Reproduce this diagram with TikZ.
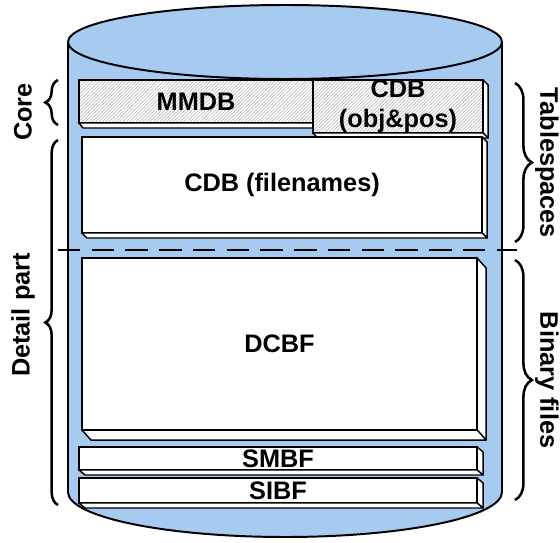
\documentclass[tikz,border=0pt]{standalone}
\usepackage{fontspec}
\setmainfont{Liberation Sans}
\usetikzlibrary{calc, decorations.pathreplacing, patterns.meta}
\definecolor{diskblue}{RGB}{166,202,240}
\newcommand{\labelfont}{\fontsize{18}{21}\selectfont\bfseries}

\tikzset{
  slab/.style={draw, line width=1pt, fill=white, inner sep=0pt, outer sep=0pt,
               anchor=north west, font=\labelfont},
  hatched/.style={preaction={fill=white},
                  pattern={Lines[angle=45,distance=1.7pt,line width=0.35pt]},
                  pattern color=gray!65},
  slabside/.style={draw, line width=1pt, fill=white, line join=round},
  bracket/.style={decorate, decoration={brace, amplitude=#1}, line width=1.8pt},
  sidelabel/.style={font=\labelfont},
}
% right and bottom faces of a slab
\newcommand{\slabsides}[3]{%
  \draw[slabside] (#1.north east) -- ++(#2,-#3) -- ($(#1.south east)+(#2,-#3)$)
    -- (#1.south east) -- cycle;
  \draw[slabside] (#1.south west) -- ++(#2,-#3) -- ($(#1.south east)+(#2,-#3)$)
    -- (#1.south east) -- cycle;}

\begin{document}
\begin{tikzpicture}[x=0.025cm, y=0.025cm]
  \useasboundingbox (0,0) rectangle (560,542);

  % the disk
  \fill[diskblue] (68,500) -- (68,50)
    arc[start angle=180, end angle=360, x radius=217, y radius=45] -- (502,500) -- cycle;
  \draw[line width=1.4pt] (68,500) -- (68,50)
    arc[start angle=180, end angle=360, x radius=217, y radius=45] -- (502,500);
  \draw[line width=1.4pt, fill=diskblue] (285,500) ellipse [x radius=217, y radius=37];

  % tablespaces
  \node[slab, hatched, minimum width=5.85cm, minimum height=1.075cm] (mmdb) at (79,462) {MMDB};
  \slabsides{mmdb}{4}{5}
  \node[slab, hatched, minimum width=4.25cm, minimum height=1.325cm, align=center]
    (cdbop) at (313,462) {CDB\\(obj\&pos)};
  \slabsides{cdbop}{5}{5}
  \node[slab, minimum width=10cm, minimum height=2.4cm] (cdbfn) at (82,405) {CDB (filenames)};
  \slabsides{cdbfn}{5}{5}

  % split
  \coordinate (split-l) at (58,292);
  \coordinate (split-r) at (517,292);
  \draw[line width=1.4pt, dash pattern=on 16pt off 8pt] (split-l) -- (split-r);

  % binary files
  \node[slab, minimum width=9.875cm, minimum height=4.3cm] (dcbf) at (82,284) {DCBF};
  \slabsides{dcbf}{9}{10}
  \node[slab, minimum width=9.95cm, minimum height=0.575cm] (smbf) at (79,95) {SMBF};
  \slabsides{smbf}{6}{5}
  \node[slab, minimum width=9.95cm, minimum height=0.625cm] (sibf) at (79,64) {SIBF};
  \slabsides{sibf}{6}{5}

  % braces
  \coordinate (core-lo) at (58,417);
  \coordinate (core-hi) at (58,462);
  \coordinate (detail-lo) at (58,37);
  \coordinate (detail-hi) at (58,402);
  \coordinate (tbsp-hi) at (515,459);
  \coordinate (tbsp-lo) at (515,300);
  \coordinate (binf-hi) at (515,282);
  \coordinate (binf-lo) at (515,42);
  \draw[bracket=9pt] (core-lo) -- (core-hi);
  \draw[bracket=9pt] (detail-lo) -- (detail-hi);
  \draw[bracket=12pt] (tbsp-hi) -- (tbsp-lo);
  \draw[bracket=12pt] (binf-hi) -- (binf-lo);

  \node[sidelabel, rotate=90] (core) at (23,430) {Core};
  \node[sidelabel, rotate=90] (detail) at (23,227) {Detail part};
  \node[sidelabel, rotate=-90] (tbsp) at (547,379) {Tablespaces};
  \node[sidelabel, rotate=-90] (binf) at (547,162) {Binary files};
\end{tikzpicture}
\end{document}
